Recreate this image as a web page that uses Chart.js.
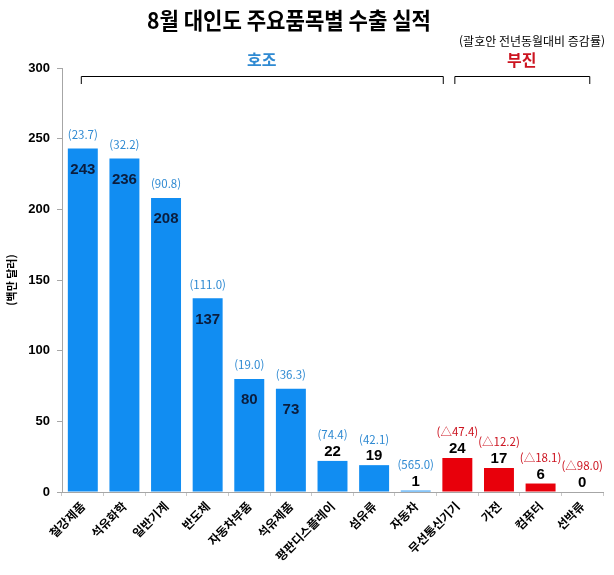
<!DOCTYPE html>
<html lang="ko">
<head>
<meta charset="utf-8">
<script src="https://cdn.jsdelivr.net/npm/chart.js@4"></script>
<style>
  body { margin: 0; background: #fff; }
</style>
</head>
<body>
<canvas id="exportChart" width="614" height="575"></canvas>
<script>
// 품목 / 수출액(백만 달러) / 전년동월대비 증감률
const items = ['철강제품', '석유화학', '일반기계', '반도체', '자동차부품', '석유제품', '평판디스플레이', '섬유류', '자동차', '무선통신기기', '가전', '컴퓨터', '선박류'];
const values = [243, 236, 208, 137, 80, 73, 22, 19, 1, 24, 17, 6, 0];
const rates = ['23.7', '32.2', '90.8', '111.0', '19.0', '36.3', '74.4', '42.1', '565.0', '△47.4', '△12.2', '△18.1', '△98.0'];
const trend = ['up', 'up', 'up', 'up', 'up', 'up', 'up', 'up', 'up', 'down', 'down', 'down', 'down'];
const yTicks = [0, 50, 100, 150, 200, 250, 300];

const FONT = '"Liberation Sans", "Noto Sans CJK KR", sans-serif';
const KFONT = '"Noto Sans CJK KR", sans-serif';
const BLUE = '#118df2';
const RED = '#e8000b';
const BLUE_TXT = '#2f8ad2';
const RED_TXT = '#cc1420';

// 막대 위 라벨 (금액 + 증감률)
const labelPlugin = {
  id: 'barLabels',
  afterDatasetsDraw(chart) {
    const ctx = chart.ctx;
    const meta = chart.getDatasetMeta(0);
    const base = chart.scales.y.getPixelForValue(0);
    ctx.save();
    ctx.textAlign = 'center';
    ctx.textBaseline = 'middle';
    meta.data.forEach((bar, i) => {
      const top = bar.y;
      const inside = base - top > 60;
      let valY, rateY;
      if (inside) {
        valY = top + 21;
        rateY = top - 14;
      } else {
        valY = top - 9;
        rateY = top - 26;
      }
      ctx.font = 'bold 15px ' + FONT;
      ctx.fillStyle = inside ? '#0b1d3d' : '#000';
      ctx.fillText(String(values[i]), bar.x, valY);

      ctx.font = '11.5px ' + KFONT;
      ctx.fillStyle = trend[i] === 'up' ? BLUE_TXT : RED_TXT;
      ctx.fillText('(' + rates[i] + ')', bar.x, rateY);
    });
    ctx.restore();
  }
};

// 제목, 부제, 호조/부진 괄호
const headerPlugin = {
  id: 'header',
  afterDraw(chart) {
    const ctx = chart.ctx;
    const x = chart.scales.x;
    const step = x.getPixelForValue(1) - x.getPixelForValue(0);
    ctx.save();
    ctx.textAlign = 'center';
    ctx.textBaseline = 'middle';

    // 제목 (가로로 약간 좁게)
    const title = '8월 대인도 주요품목별 수출 실적';
    ctx.font = 'bold 23px ' + KFONT;
    const w = ctx.measureText(title).width;
    const sx = 284 / w;
    ctx.save();
    ctx.translate(289, 20);
    ctx.scale(sx, 1);
    ctx.fillStyle = '#000';
    ctx.fillText(title, 0, 0);
    ctx.restore();

    ctx.font = '12px ' + KFONT;
    ctx.fillStyle = '#000';
    ctx.textAlign = 'right';
    ctx.fillText('(괄호안 전년동월대비 증감률)', 605, 41);

    // 괄호
    const bY = 76, bTick = 8;
    const goodL = x.getPixelForValue(0) - 2;
    const goodR = x.getPixelForValue(8) + step * 0.65;
    const badL = x.getPixelForValue(9) - 3;
    const badR = x.getPixelForValue(12) + step * 0.17;
    ctx.strokeStyle = '#000';
    ctx.lineWidth = 1;
    [[goodL, goodR], [badL, badR]].forEach(([l, r]) => {
      ctx.beginPath();
      ctx.moveTo(l + 0.5, bY + bTick);
      ctx.lineTo(l + 0.5, bY + 0.5);
      ctx.lineTo(r + 0.5, bY + 0.5);
      ctx.lineTo(r + 0.5, bY + bTick);
      ctx.stroke();
    });

    ctx.textAlign = 'center';
    ctx.font = 'bold 16px ' + KFONT;
    ctx.fillStyle = BLUE_TXT;
    ctx.fillText('호조', (goodL + goodR) / 2, 60);
    ctx.fillStyle = RED_TXT;
    ctx.fillText('부진', (badL + badR) / 2, 60);
    ctx.restore();
  }
};

const ctx = document.getElementById('exportChart').getContext('2d');

let exportChart = new Chart(ctx, {
  type: 'bar',
  data: {
    labels: items,
    datasets: [{
      data: values,
      backgroundColor: trend.map(t => t === 'up' ? BLUE : RED),
      borderWidth: 0,
      categoryPercentage: 1,
      barPercentage: 0.72
    }]
  },
  options: {
    responsive: false,
    animation: false,
    layout: { padding: { top: 68, right: 11, left: 0, bottom: 0 } },
    plugins: {
      legend: { display: false },
      tooltip: { enabled: false }
    },
    scales: {
      x: {
        grid: { display: true, drawOnChartArea: false, offset: true, tickLength: 4, color: '#c8c8c8' },
        border: { color: '#a6a6a6' },
        ticks: {
          minRotation: 45,
          maxRotation: 45,
          color: '#000',
          font: { weight: 'bold', size: 12, family: KFONT }
        },
        afterFit(scale) { scale.height = 83; }
      },
      y: {
        min: 0,
        max: 300,
        afterBuildTicks(scale) { scale.ticks = yTicks.map(v => ({ value: v })); },
        grid: { drawOnChartArea: false, tickLength: 5, color: '#a6a6a6' },
        border: { color: '#a6a6a6' },
        ticks: {
          color: '#000',
          padding: 7,
          font: { weight: 'bold', size: 13, family: FONT }
        },
        title: {
          display: true,
          text: '(백만 달러)',
          color: '#000',
          padding: 5,
          font: { weight: 'bold', size: 11, family: KFONT }
        },
        afterFit(scale) { scale.width = 62; }
      }
    }
  },
  plugins: [labelPlugin, headerPlugin]
});
</script>
</body>
</html>
